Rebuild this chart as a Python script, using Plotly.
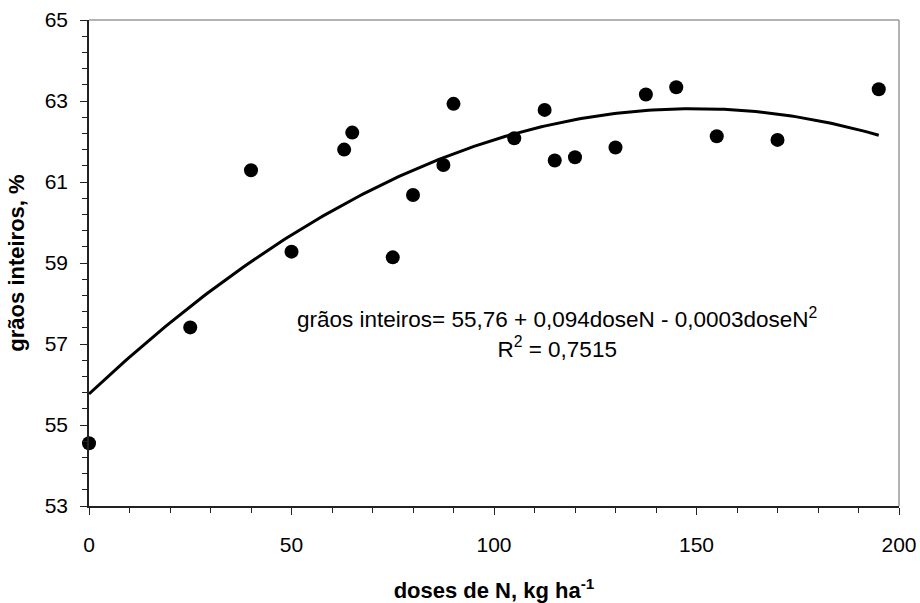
import numpy as np
import plotly.graph_objects as go

# data
dose_n = [0, 25, 40, 50, 63, 65, 75, 80, 87.5, 90, 105, 112.5, 115, 120, 130, 137.5, 145, 155, 170, 195]
graos_inteiros = [54.55, 57.41, 61.29, 59.28, 61.80, 62.22, 59.14, 60.68, 61.42, 62.93,
                  62.08, 62.78, 61.53, 61.61, 61.85, 63.16, 63.34, 62.13, 62.04, 63.29]

x_ticks = [0, 50, 100, 150, 200]
y_ticks = [53, 55, 57, 59, 61, 63, 65]

# quadratic trend line fitted from the points (as the spreadsheet trendline)
coef = np.polyfit(dose_n, graos_inteiros, 2)
x_fit = np.linspace(min(dose_n), max(dose_n), 200)
y_fit = np.polyval(coef, x_fit)

FONT = "Liberation Sans, Arial, sans-serif"

fig = go.Figure()
fig.add_trace(go.Scatter(x=x_fit, y=y_fit, mode="lines",
                         line=dict(color="black", width=3), hoverinfo="skip", showlegend=False))
fig.add_trace(go.Scatter(x=dose_n, y=graos_inteiros, mode="markers", cliponaxis=False,
                         marker=dict(color="black", size=14), showlegend=False))

fig.add_annotation(x=0.578, y=0.355, xref="x domain", yref="y domain",
                   text="grãos inteiros= 55,76 + 0,094doseN - 0,0003doseN<sup>2</sup><br>R<sup>2</sup> = 0,7515",
                   showarrow=False, align="center", xanchor="center", yanchor="middle",
                   font=dict(family=FONT, size=22.5, color="black"))

# gray top/right frame of the plot area
fig.add_shape(type="line", xref="x domain", yref="y domain", x0=0, x1=1, y0=1, y1=1,
              line=dict(color="#9a9a9a", width=1.5))
fig.add_shape(type="line", xref="x domain", yref="y domain", x0=1, x1=1, y0=0, y1=1,
              line=dict(color="#9a9a9a", width=1.5))

fig.update_layout(
    width=920, height=603,
    margin=dict(l=89, r=21, t=20, b=97),
    paper_bgcolor="white", plot_bgcolor="white",
    font=dict(family=FONT, color="black"),
    xaxis=dict(range=[0, 200], tickvals=x_ticks, ticks="outside", ticklen=7, tickwidth=1.3,
               tickcolor="#222", showline=True, linecolor="#222", linewidth=1.5,
               showgrid=False, zeroline=False, tickfont=dict(size=21),
               ticklabelstandoff=12, automargin=False,
               minor=dict(dtick=10, ticks="outside", ticklen=5, tickwidth=1.2, tickcolor="#222"),
               title=dict(text="<b>doses de N, kg ha<sup>-1</sup></b>", font=dict(size=22), standoff=30)),
    yaxis=dict(range=[53, 65], tickvals=y_ticks, ticks="outside", ticklen=7, tickwidth=1.3,
               tickcolor="#222", showline=True, linecolor="#222", linewidth=1.5,
               showgrid=False, zeroline=False, tickfont=dict(size=21),
               ticklabelstandoff=8, automargin=False,
               minor=dict(dtick=0.4, tick0=53, ticks="outside", ticklen=5, tickwidth=1.2, tickcolor="#222"),
               title=dict(text="<b>grãos inteiros, %</b>", font=dict(size=22), standoff=14)),
)

fig.write_html("out.html")
